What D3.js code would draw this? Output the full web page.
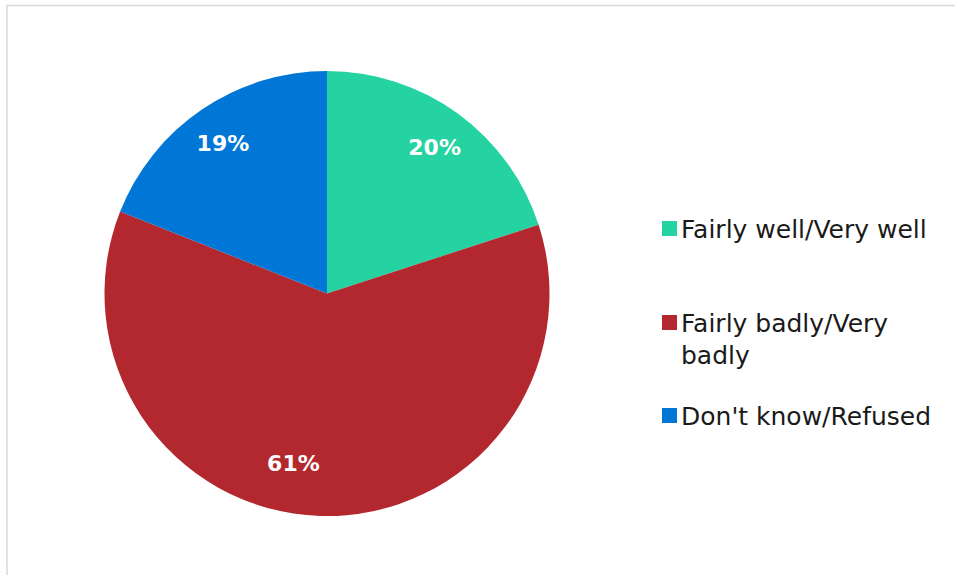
<!DOCTYPE html>
<html>
<head>
<meta charset="utf-8">
<script src="https://cdn.jsdelivr.net/npm/d3@7"></script>
<style>
  html, body { margin: 0; padding: 0; background: #ffffff; }
  svg { display: block; }
</style>
</head>
<body>
<svg id="chart" width="955" height="575"></svg>
<script>
// Survey answer groups and their shares (percent)
const categories = ["Fairly well/Very well", "Fairly badly/Very badly", "Don't know/Refused"];
const values = [20, 61, 19];
const legendLines = [["Fairly well/Very well"], ["Fairly badly/Very", "badly"], ["Don't know/Refused"]];
const colors = ["#24d3a1", "#b3272e", "#0077d6"];

const svg = d3.select("#chart");
const fontFamily = "'DejaVu Sans', Verdana, sans-serif";

// Frame around the chart area
svg.append("rect")
  .attr("x", 7).attr("y", 5.5)
  .attr("width", 1000).attr("height", 1000)
  .attr("fill", "none")
  .attr("stroke", "#d9d9d9")
  .attr("stroke-width", 1.5);

const cx = 327, cy = 293.5, radius = 222.5;

const pie = d3.pie().sort(null).value(d => d);
const arcs = pie(values);

const arc = d3.arc().innerRadius(0).outerRadius(radius);
const labelArc = d3.arc().innerRadius(radius * 0.8).outerRadius(radius * 0.8);
// small per-slice shifts of the percentage labels (best-fit placement)
const labelNudge = [[3, -2], [-28, -8], [-4, -3]];

const g = svg.append("g").attr("transform", `translate(${cx},${cy})`);

g.selectAll("path.slice")
  .data(arcs)
  .join("path")
  .attr("class", "slice")
  .attr("d", arc)
  .attr("fill", (d, i) => colors[i]);

g.selectAll("text.pct")
  .data(arcs)
  .join("text")
  .attr("class", "pct")
  .attr("transform", (d, i) => {
    const [x, y] = labelArc.centroid(d);
    return `translate(${x + labelNudge[i][0]},${y + labelNudge[i][1]})`;
  })
  .attr("text-anchor", "middle")
  .attr("dy", "0.36em")
  .attr("fill", "#ffffff")
  .attr("font-family", fontFamily)
  .attr("font-weight", "bold")
  .attr("font-size", 22)
  .text(d => d.value + "%");

// Legend
const legendX = 662;
const legendTops = [221, 315, 408];
const lineHeight = 32;

const legend = svg.append("g");
categories.forEach((c, i) => {
  legend.append("rect")
    .attr("x", legendX).attr("y", legendTops[i])
    .attr("width", 15).attr("height", 15)
    .attr("fill", colors[i]);
  const t = legend.append("text")
    .attr("x", legendX + 19)
    .attr("y", legendTops[i] + 17)
    .attr("fill", "#1a1a1a")
    .attr("font-family", fontFamily)
    .attr("font-size", 25);
  legendLines[i].forEach((line, j) => {
    t.append("tspan")
      .attr("x", legendX + 19)
      .attr("dy", j === 0 ? 0 : lineHeight)
      .text(line);
  });
});
</script>
</body>
</html>
